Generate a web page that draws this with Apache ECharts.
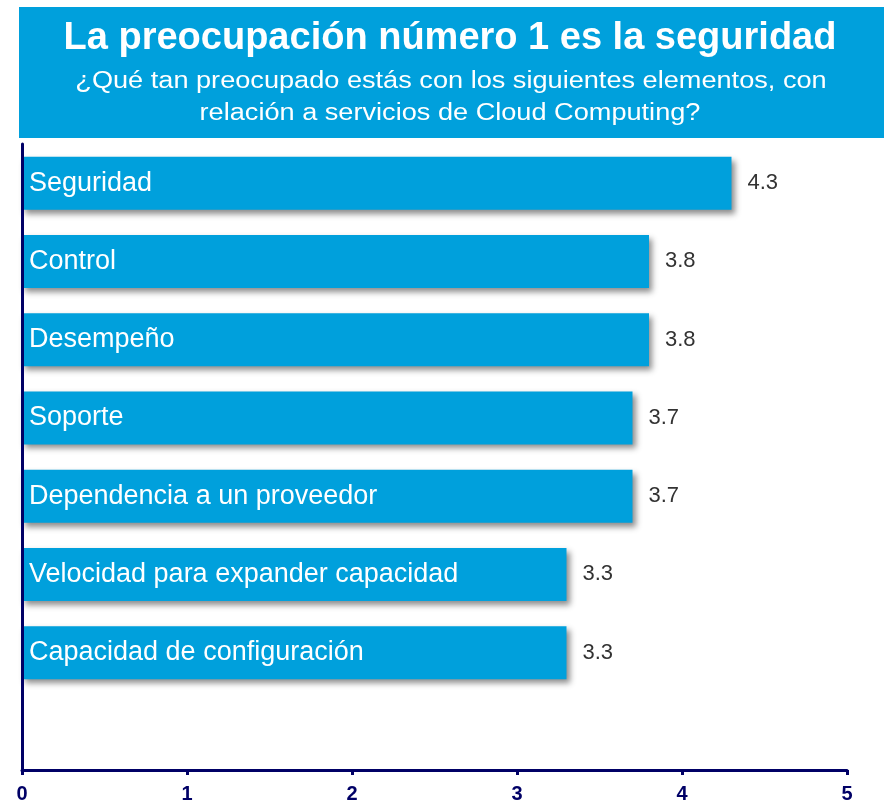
<!DOCTYPE html>
<html>
<head>
<meta charset="utf-8">
<script src="https://cdn.jsdelivr.net/npm/echarts@6/dist/echarts.min.js"></script>
<style>
  html, body { margin: 0; padding: 0; background: #fff; }
  #chart { width: 888px; height: 807px; }
</style>
</head>
<body>
<div id="chart"></div>
<script>
// datos
const categories = [
  "Seguridad",
  "Control",
  "Desempeño",
  "Soporte",
  "Dependencia a un proveedor",
  "Velocidad para expander capacidad",
  "Capacidad de configuración",
  "" // hueco vacio abajo
];
const values = [4.3, 3.8, 3.8, 3.7, 3.7, 3.3, 3.3, null];
const xTicks = [0, 1, 2, 3, 4, 5];

const titleText = "La preocupación número 1 es la seguridad";
const subLines = [
  "¿Qué tan preocupado estás con los siguientes elementos, con",
  "relación a servicios de Cloud Computing?"
];

const blue = "#00a0dc";
const navy = "#000066";
const font = "Liberation Sans, Arial, sans-serif";

const chart = echarts.init(document.getElementById("chart"));

const option = {
  backgroundColor: "#fff",
  animation: false,
  textStyle: { fontFamily: font },
  graphic: [
    {
      type: "rect",
      left: 19,
      top: 7,
      shape: { width: 865, height: 131 },
      style: { fill: blue },
      z: 0
    },
    {
      type: "text",
      x: 450,
      y: 39,
      style: {
        text: titleText,
        fill: "#fff",
        fontSize: 38,
        fontWeight: "bold",
        fontFamily: font,
        align: "center",
        verticalAlign: "middle"
      },
      z: 5
    },
    {
      type: "text",
      x: 451,
      y: 82,
      scaleX: 1.18,
      style: {
        text: subLines[0],
        fill: "#fff",
        fontSize: 23,
        fontFamily: font,
        align: "center",
        verticalAlign: "middle"
      },
      z: 5
    },
    {
      type: "text",
      x: 450,
      y: 114,
      scaleX: 1.18,
      style: {
        text: subLines[1],
        fill: "#fff",
        fontSize: 23,
        fontFamily: font,
        align: "center",
        verticalAlign: "middle"
      },
      z: 5
    }
  ],
  grid: {
    left: 22,
    right: 41,
    top: 144,
    bottom: 37,
    containLabel: false
  },
  xAxis: {
    type: "value",
    min: 0,
    max: 5,
    interval: 1,
    splitLine: { show: false },
    axisLine: { show: true, lineStyle: { color: navy, width: 3 } },
    axisTick: { show: true, length: 5, lineStyle: { color: navy, width: 3 } },
    axisLabel: {
      color: navy,
      fontSize: 20,
      fontWeight: "bold",
      margin: 14,
      formatter: v => xTicks.includes(v) ? String(v) : ""
    }
  },
  yAxis: {
    type: "category",
    data: categories,
    inverse: true,
    z: 10,
    axisLine: { show: true, lineStyle: { color: navy, width: 3 } },
    axisTick: { show: false },
    axisLabel: {
      inside: true,
      color: "#fff",
      fontSize: 27,
      margin: 7,
      padding: [3, 0, 0, 0]
    }
  },
  series: [
    {
      type: "bar",
      data: values,
      barWidth: 53,
      itemStyle: {
        color: blue,
        shadowColor: "rgba(0,0,0,0.45)",
        shadowBlur: 6,
        shadowOffsetX: 3,
        shadowOffsetY: 4
      },
      label: {
        show: true,
        position: "right",
        distance: 16,
        color: "#333",
        fontSize: 22,
        formatter: p => p.value == null ? "" : p.value.toFixed(1)
      }
    }
  ]
};

chart.setOption(option);
</script>
</body>
</html>
